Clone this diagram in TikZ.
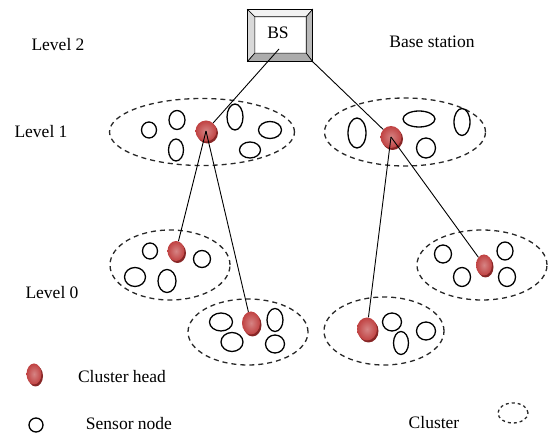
\documentclass[tikz,border=0pt]{standalone}
\usepackage{fontspec}
\setmainfont{Liberation Serif}
\usetikzlibrary{shapes.geometric,shadows}
\definecolor{headred}{RGB}{192,66,66}
\definecolor{headdark}{RGB}{135,38,38}
\definecolor{dashgray}{RGB}{40,40,40}
\tikzset{
    cluster/.style={ellipse, draw=dashgray, line width=1.3pt, dash pattern=on 5pt off 4pt, inner sep=0pt},
    sensor/.style={ellipse, draw=black, line width=1.3pt, inner sep=0pt},
    head/.style={ellipse, inner sep=0pt, inner color=headred!65!white, outer color=headred,
        drop shadow={shadow xshift=1.5pt, shadow yshift=-2pt, fill=headdark, opacity=1}},
    lbl/.style={font=\fontsize{17.5}{20}\selectfont, inner sep=0pt},
    link/.style={line width=0.9pt}
}

\begin{document}
\begin{tikzpicture}[x=1pt, y=-1pt]
        \useasboundingbox (0,0) rectangle (549,435);

        \node[draw, line width=0.9pt, fill=gray!50, minimum width=64, minimum height=51, inner sep=0pt](bs) at (280,35.5) {};
        \node[fill=white, minimum width=51, minimum height=36, inner sep=0pt](bsin) at (280.5,35) {};
        \filldraw[fill=gray!10, line width=0.6pt] (bs.north west) -- (bs.north east) -- (bsin.north east) -- (bsin.north west) -- cycle;
        \filldraw[fill=gray!30, line width=0.6pt] (bs.north west) -- (bsin.north west) -- (bsin.south west) -- (bs.south west) -- cycle;
        \filldraw[fill=gray!55, line width=0.6pt] (bs.north east) -- (bsin.north east) -- (bsin.south east) -- (bs.south east) -- cycle;
        \filldraw[fill=gray!65, line width=0.6pt] (bs.south west) -- (bsin.south west) -- (bsin.south east) -- (bs.south east) -- cycle;
        \draw[line width=1.1pt] (bs.north west) rectangle (bs.south east);
        \node[lbl](bstext) at (278,33) {BS};
        \coordinate (bsfoot) at (279,49);

        \node[lbl](lv2) at (58,45) {Level 2};
        \node[lbl](lv1) at (41,132) {Level 1};
        \node[lbl](lv0) at (52,293) {Level 0};
        \node[lbl](bslabel) at (432,42) {Base station};

        \node[cluster, minimum width=185, minimum height=67](cl1) at (202,132) {};
        \node[cluster, minimum width=161, minimum height=68](cr1) at (405,132) {};
        \node[cluster, minimum width=120, minimum height=70](cl0) at (170,265) {};
        \node[cluster, minimum width=120, minimum height=66](cm0) at (248,332) {};
        \node[cluster, minimum width=130, minimum height=70](cr0) at (482,265) {};
        \node[cluster, minimum width=120, minimum height=68](cb0) at (384,331) {};

        \node[sensor, minimum width=15, minimum height=16](sa1) at (149,130) {};
        \node[sensor, minimum width=16, minimum height=19](sa2) at (177,120) {};
        \node[sensor, minimum width=15, minimum height=22](sa3) at (176,150) {};
        \node[sensor, minimum width=16, minimum height=26](sa4) at (235,117) {};
        \node[sensor, minimum width=23, minimum height=17](sa5) at (270,130) {};
        \node[sensor, minimum width=21, minimum height=16](sa6) at (250,150) {};

        \node[sensor, minimum width=18, minimum height=30](sb1) at (357,133) {};
        \node[sensor, minimum width=32, minimum height=16](sb2) at (419,119) {};
        \node[sensor, minimum width=16, minimum height=27](sb3) at (462,122) {};
        \node[sensor, minimum width=19, minimum height=20](sb4) at (426,148) {};

        \node[sensor, minimum width=15, minimum height=16](sc1) at (150,251) {};
        \node[sensor, minimum width=17, minimum height=17](sc2) at (202,259) {};
        \node[sensor, minimum width=21, minimum height=19](sc3) at (135,277) {};
        \node[sensor, minimum width=18, minimum height=23](sc4) at (167,281) {};

        \node[sensor, minimum width=23, minimum height=18](sd1) at (221,322) {};
        \node[sensor, minimum width=16, minimum height=23](sd2) at (275,320) {};
        \node[sensor, minimum width=22, minimum height=19](sd3) at (232,342) {};
        \node[sensor, minimum width=19, minimum height=18](sd4) at (275,344) {};

        \node[sensor, minimum width=17, minimum height=18](se1) at (443,254) {};
        \node[sensor, minimum width=16, minimum height=18](se2) at (505,251) {};
        \node[sensor, minimum width=17, minimum height=19](se3) at (462,277) {};
        \node[sensor, minimum width=17, minimum height=19](se4) at (507,277) {};

        \node[sensor, minimum width=19, minimum height=18](sf1) at (392,322) {};
        \node[sensor, minimum width=15, minimum height=23](sf2) at (401,343) {};
        \node[sensor, minimum width=19, minimum height=18](sf3) at (426,331) {};

        \node[head, minimum width=21, minimum height=21](h1) at (206,131) {};
        \node[head, minimum width=21, minimum height=22](h2) at (391,137) {};
        \node[head, minimum width=17, minimum height=20](h3) at (176,251) {};
        \node[head, minimum width=18, minimum height=23](h4) at (251,323) {};
        \node[head, minimum width=16, minimum height=21](h5) at (484,265) {};
        \node[head, minimum width=20, minimum height=23](h6) at (367,329) {};

        \draw[link] (bsfoot) -- (h1);
        \draw[link] (bs.south east) -- (h2);
        \draw[link] (h1.center) -- (h3);
        \draw[link] (h1.center) -- (h4);
        \draw[link] (h2.center) -- (h5);
        \draw[link] (h2.center) -- (h6);

        \node[head, minimum width=15, minimum height=21](hkey) at (34,374) {};
        \node[lbl](hkeytext) at (122,377) {Cluster head};
        \node[sensor, minimum width=14, minimum height=14](skey) at (36,425) {};
        \node[lbl](skeytext) at (129,424) {Sensor node};
        \node[lbl](ckeytext) at (434,423) {Cluster};
        \node[cluster, minimum width=30, minimum height=20, dash pattern=on 3pt off 3pt](ckey) at (513,413) {};
    \end{tikzpicture}
\end{document}
